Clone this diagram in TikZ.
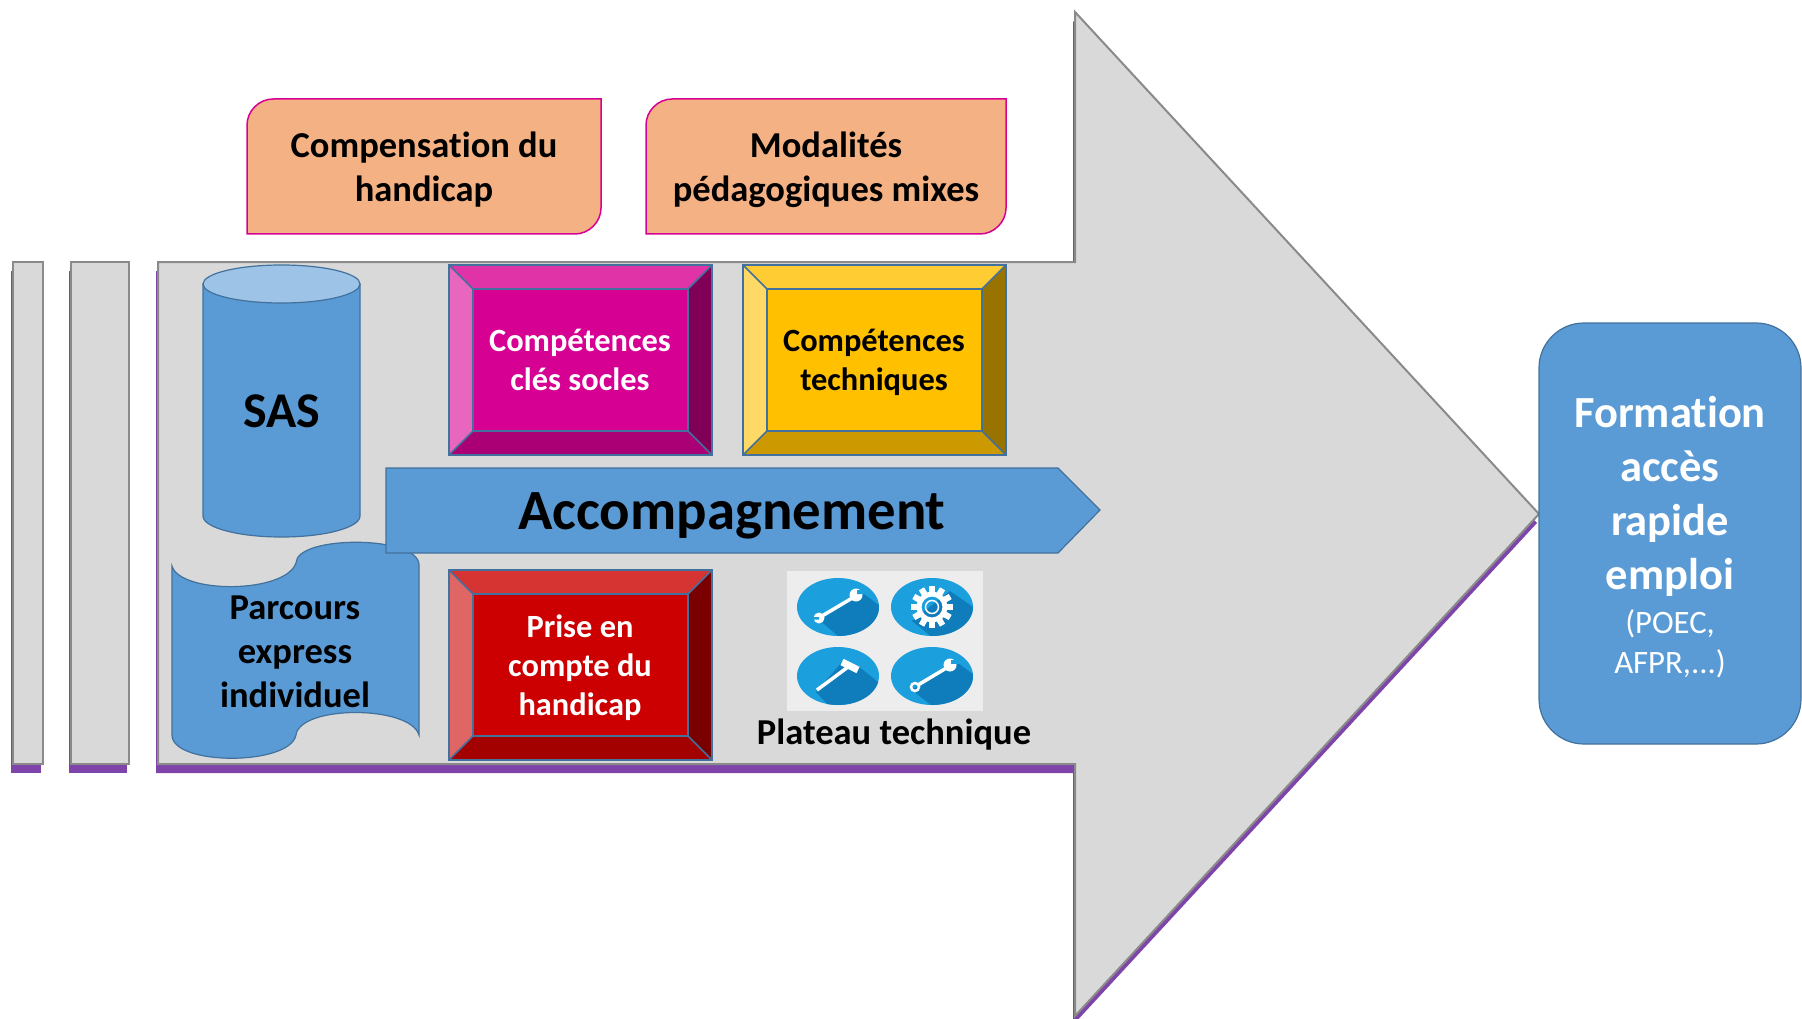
\documentclass[tikz,border=0pt]{standalone}
\usepackage{fontspec}
\setmainfont{Carlito}[Ligatures=CommonOff]
\usetikzlibrary{shadows}
\definecolor{bargrey}{HTML}{D9D9D9}
\definecolor{barline}{HTML}{8A8A8A}
\definecolor{shadepurple}{HTML}{7030A0}
\definecolor{bluefill}{HTML}{5B9BD5}
\definecolor{bluetop}{HTML}{9DC3E6}
\definecolor{blueline}{HTML}{41719C}
\definecolor{peach}{HTML}{F4B183}
\definecolor{magline}{HTML}{D60093}
\definecolor{iconblue}{HTML}{1B9FDD}
\definecolor{icondark}{HTML}{0F7CBC}
\definecolor{iconback}{HTML}{EDEDED}
\definecolor{magmain}{HTML}{D60093}
\definecolor{magtop}{HTML}{E033A8}
\definecolor{magleft}{HTML}{E866BE}
\definecolor{magright}{HTML}{800058}
\definecolor{magbottom}{HTML}{AB0075}
\definecolor{yelmain}{HTML}{FFC000}
\definecolor{yeltop}{HTML}{FFCD33}
\definecolor{yelleft}{HTML}{FFD966}
\definecolor{yelright}{HTML}{997300}
\definecolor{yelbottom}{HTML}{CC9A00}
\definecolor{redmain}{HTML}{CC0000}
\definecolor{redtop}{HTML}{D63333}
\definecolor{redleft}{HTML}{E06666}
\definecolor{redright}{HTML}{7A0000}
\definecolor{redbottom}{HTML}{A30000}
\newcommand{\fs}[2]{\fontsize{#1}{#2}\selectfont}
% left, top, right, bottom, then colour prefix
\newcommand{\bevelbox}[5]{
    \fill[#5main] (#1,#2) rectangle (#3,#4);
    \fill[#5top] (#1,#2) -- (#3,#2) -- (#3-24,#2+24) -- (#1+24,#2+24) -- cycle;
    \fill[#5left] (#1,#2) -- (#1+24,#2+24) -- (#1+24,#4-24) -- (#1,#4) -- cycle;
    \fill[#5right] (#3,#2) -- (#3-24,#2+24) -- (#3-24,#4-24) -- (#3,#4) -- cycle;
    \fill[#5bottom] (#1,#4) -- (#1+24,#4-24) -- (#3-24,#4-24) -- (#3,#4) -- cycle;
    \draw[facet] (#1,#2) rectangle (#3,#4);
    \draw[facet] (#1+24,#2+24) rectangle (#3-24,#4-24);
    \draw[facet] (#1,#2) -- (#1+24,#2+24) (#3,#2) -- (#3-24,#2+24);
    \draw[facet] (#1,#4) -- (#1+24,#4-24) (#3,#4) -- (#3-24,#4-24);
}
\begin{document}
\begin{tikzpicture}[x=1pt,y=-1pt,
    greyshape/.style={fill=bargrey,draw=barline,line width=2pt,
        drop shadow={shadow xshift=-2pt,shadow yshift=-9pt,fill=shadepurple,opacity=0.9}},
    facet/.style={draw=blueline,line width=1.5pt},
    blueshape/.style={fill=bluefill,draw=blueline,line width=1.2pt},
    peachbox/.style={fill=peach,draw=magline,line width=1.5pt},
    boxtext/.style={font=\bfseries\fs{32.4}{39},align=center,inner sep=0pt},
    toptext/.style={font=\bfseries\fs{36.5}{44},align=center,inner sep=0pt},
    iconline/.style={white,line width=3.5pt}]
\useasboundingbox (0,0) rectangle (1802,1019);

% bars and main arrow
\draw[greyshape] (13,262) rectangle (43,764);
\draw[greyshape] (71,262) rectangle (129,764);
\draw[greyshape] (158,262) -- (1075,262) -- (1075,12) -- (1539,514) -- (1075,1016) -- (1075,764) -- (158,764) -- cycle;

% top boxes
\draw[peachbox] (247,234) -- (247,125) .. controls (247,111) and (259,99) .. (273,99) -- (601,99) -- (601,208) .. controls (601,222) and (589,234) .. (575,234) -- cycle;
\draw[peachbox] (646,234) -- (646,125) .. controls (646,111) and (658,99) .. (672,99) -- (1006,99) -- (1006,208) .. controls (1006,222) and (994,234) .. (980,234) -- cycle;
\node[toptext] (compensation) at (424,170) {Compensation du\\handicap};
\node[toptext] (modalites) at (826,170) {Modalités\\pédagogiques mixes};

% SAS
\draw[blueshape] (203,284) -- (203,516) arc[start angle=180,end angle=0,x radius=78.5,y radius=21] -- (360,284) -- cycle;
\draw[blueshape,fill=bluetop] (281.5,284) ellipse[x radius=78.5,y radius=19];
\node[font=\bfseries\fs{50}{54},inner sep=0pt] (sas) at (282,411) {SAS};

% Parcours
\draw[blueshape] (172,566) .. controls (180,594) and (285,594) .. (296,563)
    .. controls (296,535) and (419,535) .. (419,565) -- (419,735)
    .. controls (410,705) and (300,705) .. (296,735)
    .. controls (290,766) and (172,766) .. (172,735) -- cycle;
\node[boxtext,font=\bfseries\fs{36.5}{44}] (parcours) at (295,652) {Parcours\\express\\individuel};

% bevelled boxes
\bevelbox{449}{265}{712}{455}{mag}
\bevelbox{743}{265}{1006}{455}{yel}
\bevelbox{449}{570}{712}{760}{red}
\node[boxtext,white] (cles) at (580,360) {Compétences\\clés socles};
\node[boxtext] (techniques) at (874,362) {Compétences\\techniques};
\node[boxtext,white] (prise) at (580,668) {Prise en\\compte du\\handicap};

% Accompagnement
\draw[blueshape] (386,468) -- (1058,468) -- (1100,510) -- (1058,553) -- (386,553) -- cycle;
\node[font=\bfseries\fs{56.8}{60},inner sep=0pt] (accompagnement) at (732,516) {Accompagnement};

% Plateau technique
\fill[iconback] (787,571) rectangle (983,711);
\foreach \cx/\cy in {838/607,932/607,838/676,932/676}{
    \begin{scope}[shift={(\cx,\cy)}]
        \fill[iconblue] (0,0) ellipse[x radius=41,y radius=29];
    \end{scope}
}
% wrench
\begin{scope}[shift={(838,607)}]
    \clip (0,0) ellipse[x radius=41,y radius=29];
    \fill[icondark] (-20,12) -- (25,50) -- (70,20) -- (22,-16) -- cycle;
    \draw[iconline] (-16,9) -- (16,-10);
    \fill[white] (-19,11) circle (5.5) (18,-12) circle (6.5);
    \fill[iconblue] (-26,10) rectangle (-19,12.5) (19,-17) rectangle (28,-13);
\end{scope}
% gear
\begin{scope}[shift={(932,607)}]
    \clip (0,0) ellipse[x radius=41,y radius=29];
    \fill[icondark] (-20,14) -- (25,50) -- (70,20) -- (18,-16) -- cycle;
    \foreach \a in {0,30,...,330}{
        \fill[white,rotate=\a] (-3,-21) rectangle (3,-13);
    }
    \draw[white,line width=5pt] (0,0) circle (13);
    \draw[white,line width=1.5pt] (0,0) circle (6.5);
\end{scope}
% hammer
\begin{scope}[shift={(838,676)}]
    \clip (0,0) ellipse[x radius=41,y radius=29];
    \fill[icondark] (-22,16) -- (10,50) -- (70,30) -- (20,-10) -- (4,-14) -- cycle;
    \draw[iconline] (-21,14) -- (10,-9);
    \draw[white,line width=7pt] (4,-14) -- (20,-6);
\end{scope}
% spanner
\begin{scope}[shift={(932,676)}]
    \clip (0,0) ellipse[x radius=41,y radius=29];
    \fill[icondark] (-20,14) -- (25,50) -- (70,20) -- (22,-16) -- cycle;
    \draw[iconline] (-14,9) -- (16,-9);
    \draw[white,line width=2.5pt] (-17,11) circle (4);
    \fill[white] (18,-11) circle (6.5);
    \fill[iconblue] (19,-16) rectangle (28,-12);
\end{scope}
\node[font=\bfseries\fs{36.5}{40},inner sep=0pt] (plateau) at (894,735) {Plateau technique};

% Formation
\draw[blueshape,rounded corners=45pt] (1539,323) rectangle (1801,744);
\node[font=\bfseries\fs{44.5}{54},text=white,align=center,inner sep=0pt] (formation) at (1670,496) {Formation\\accès\\rapide\\emploi};
\node[font=\fs{32.7}{40},text=white,align=center,inner sep=0pt] (poec) at (1670,644) {(POEC,\\AFPR,...)};
\end{tikzpicture}
\end{document}
